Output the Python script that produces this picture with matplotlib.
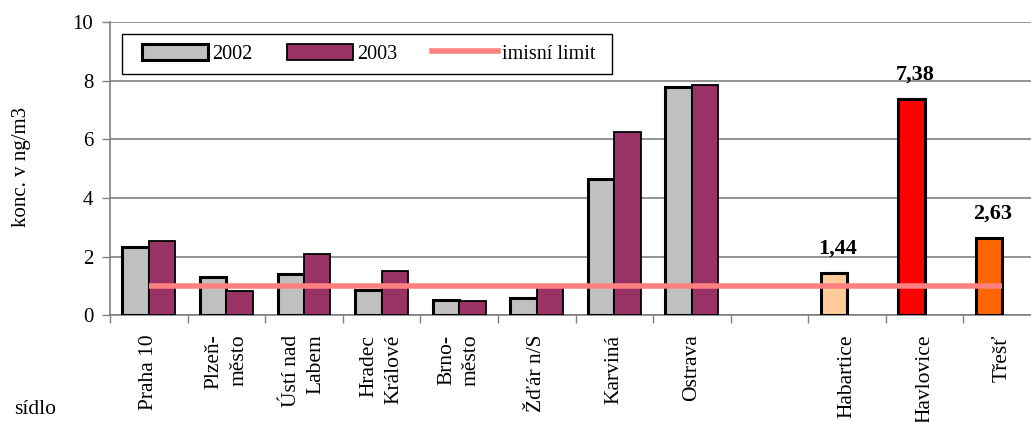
import matplotlib.pyplot as plt
from matplotlib.patches import Patch, Rectangle
from matplotlib.lines import Line2D
import numpy as np

plt.rcParams['font.family'] = ['Liberation Serif', 'DejaVu Serif']

# data
cities = ["Praha 10", "Plzeň-\nměsto", "Ústí nad\nLabem", "Hradec\nKrálové", "Brno-\nměsto",
          "Žďár n/S", "Karviná", "Ostrava", "", "Habartice", "Havlovice", "Třešť"]
v2002 = [2.32, 1.30, 1.41, 0.86, 0.52, 0.59, 4.66, 7.77]
v2003 = [2.54, 0.82, 2.09, 1.52, 0.50, 0.95, 6.25, 7.84]
single_vals = [1.44, 7.38, 2.63]
single_labels = ["1,44", "7,38", "2,63"]
single_colors = ["#FFCC99", "#FF0000", "#FF6600"]
limit = 1.0

fig = plt.figure(figsize=(10.31, 4.22), dpi=100)
ax = fig.add_axes([110/1031, 106.7/422, 931/1031, 293.3/422])

w = 0.34
x = np.arange(len(v2002))
ax.bar(x - w/2, v2002, w, color="#C0C0C0", edgecolor="black", linewidth=2.2, zorder=3)
ax.bar(x + w/2, v2003, w, color="#993366", edgecolor="black", linewidth=1.3, zorder=3)

xs = np.arange(9, 12)
ax.bar(xs - w/2, single_vals, w, color=single_colors, edgecolor="black", linewidth=2.2, zorder=3)
for xi, v, t in zip(xs, single_vals, single_labels):
    ax.text(xi - w/2 + 0.05, v + 0.5, t, ha="center", va="bottom", fontsize=16, fontweight="bold")

ax.plot([0, 11], [limit, limit], color="#FF8080", linewidth=4, solid_capstyle="butt", zorder=4)

ax.set_xlim(-0.5, 11.5)
ax.set_ylim(0, 10)
ax.set_yticks([0, 2, 4, 6, 8, 10])
ax.yaxis.grid(True, color="#808080", linewidth=1.2, zorder=0)
ax.set_axisbelow(True)
ax.tick_params(axis="y", labelsize=15, length=6, width=1, pad=6, color="#808080")

ax.set_xticks(np.arange(12))
ax.set_xticklabels(cities, rotation=90, fontsize=15.5, ha="center", va="top",
                   multialignment="right", linespacing=1.4)
ax.tick_params(axis="x", which="major", length=0, pad=14)
ax.set_xticks(np.arange(-0.5, 12, 1), minor=True)
ax.tick_params(axis="x", which="minor", length=6, width=1, color="#808080")

for s in ["top", "right"]:
    ax.spines[s].set_visible(False)
ax.spines["left"].set_color("#808080")
ax.spines["bottom"].set_color("#808080")
ax.spines["left"].set_linewidth(1.2)
ax.spines["bottom"].set_linewidth(1.2)

fig.text(22/1031, 1 - 167/422, "konc. v ng/m3", rotation=90, ha="center", va="center", fontsize=15)
fig.text(14/1031, 1 - 410/422, "sídlo", ha="left", va="center", fontsize=15.5)

# legend frame drawn by hand, content placed inside
ax.add_patch(Rectangle((122/1031, 1 - 74/422), 490/1031, 40/422, transform=fig.transFigure,
                       facecolor="white", edgecolor="black", linewidth=1.0, zorder=5, clip_on=False))
handles = [Patch(facecolor="#C0C0C0", edgecolor="black", linewidth=2.2),
           Patch(facecolor="#993366", edgecolor="black", linewidth=1.3),
           Line2D([0], [0], color="#FF8080", linewidth=4)]
leg = ax.legend(handles, ["2002", "2003", "imisní limit"], ncol=3, loc="center left",
                bbox_to_anchor=(142/1031, 1 - 54/422), bbox_transform=fig.transFigure,
                borderaxespad=0, borderpad=0, fontsize=14.5, frameon=False,
                handlelength=3.3, handleheight=0.85, handletextpad=0.2, columnspacing=1.7)
leg.set_zorder(6)

fig.savefig("out.png", dpi=100)
